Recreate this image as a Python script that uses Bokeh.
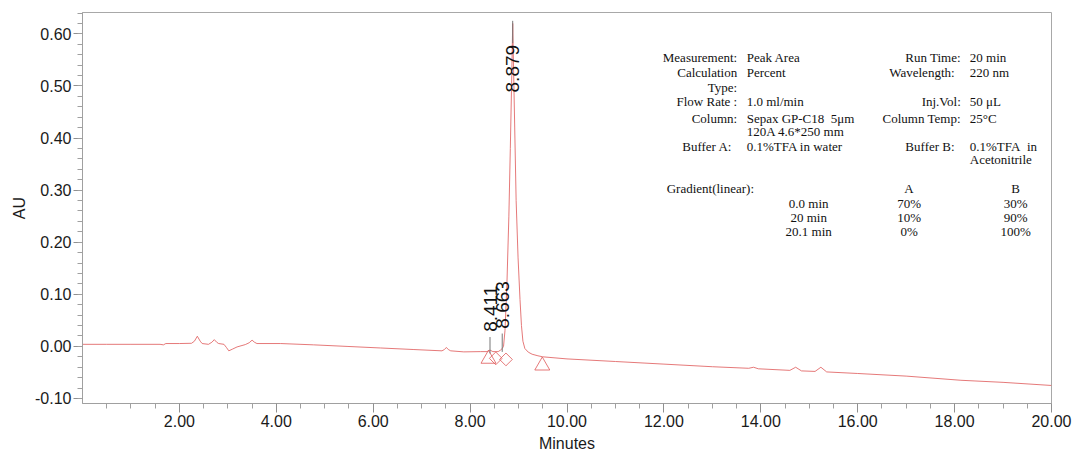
import math
from bokeh.plotting import figure
from bokeh.models import Range1d, FixedTicker, NumeralTickFormatter, Label, ColumnDataSource
from bokeh.embed import file_html
from bokeh.resources import INLINE

# ---------------- data ----------------
times = [0.00, 0.50, 1.00, 1.60, 1.67, 1.72, 2.00, 2.25, 2.31, 2.37, 2.43, 2.47, 2.60, 2.67, 2.72,
         2.77, 2.81, 2.92, 2.97, 3.02, 3.10, 3.19, 3.36, 3.44, 3.50, 3.55, 3.60, 4.09, 4.77, 5.46,
         6.15, 6.84, 7.42, 7.47, 7.51, 7.55, 7.60, 7.87, 8.21, 8.35, 8.41, 8.47, 8.58, 8.63, 8.663,
         8.69, 8.72, 8.76, 8.80, 8.83, 8.86, 8.879, 8.90, 8.925, 8.95, 8.99, 9.03, 9.06, 9.09, 9.13,
         9.20, 9.28, 9.40, 9.50, 10.00, 11.00, 12.00, 13.00, 13.75, 13.85, 13.95, 14.60, 14.72, 14.84,
         15.12, 15.24, 15.36, 16.00, 17.00, 18.13, 19.00, 20.00]
absorbance = [0.004, 0.004, 0.004, 0.004, 0.003, 0.0055, 0.0055, 0.006, 0.010, 0.0195, 0.010, 0.0055, 0.004, 0.008, 0.013,
              0.008, 0.0055, 0.004, -0.002, -0.0085, -0.005, -0.001, 0.0035, 0.007, 0.012, 0.008, 0.0055, 0.0055, 0.003, 0.000,
              -0.003, -0.006, -0.0085, -0.006, -0.002, -0.006, -0.0085, -0.0105, -0.010, -0.010, -0.007, -0.010, -0.010, -0.007, -0.004,
              0.000, 0.030, 0.120, 0.250, 0.380, 0.520, 0.620, 0.520, 0.400, 0.280, 0.170, 0.090, 0.040, 0.010, -0.004,
              -0.011, -0.015, -0.018, -0.020, -0.024, -0.029, -0.034, -0.039, -0.042, -0.040, -0.043, -0.046, -0.040, -0.047,
              -0.048, -0.040, -0.049, -0.052, -0.057, -0.065, -0.069, -0.075]

peak_times = [8.411, 8.663, 8.879]
peak_labels = ["8.411", "8.663", "8.879"]

triangle_times = [8.38, 9.49]
triangle_values = [-0.024, -0.037]
diamond_times = [8.53, 8.74]
diamond_values = [-0.023, -0.025]

x_ticks = [2, 4, 6, 8, 10, 12, 14, 16, 18, 20]
y_ticks = [-0.1, 0.0, 0.1, 0.2, 0.3, 0.4, 0.5, 0.6]

left_labels = ["Measurement:", "Calculation", "Type:", "Flow Rate :", "Column:", "Buffer A:"]
left_label_rows = [0, 1, 2, 3, 4, 6]
left_values = ["Peak Area", "Percent", "1.0 ml/min", "Sepax GP-C18\u00a0 5\u03bcm", "120A 4.6*250 mm", "0.1%TFA in water"]
left_value_rows = [0, 1, 3, 4, 5, 6]
right_labels = ["Run Time:", "Wavelength:", "Inj.Vol:", "Column Temp:", "Buffer B:"]
right_label_rows = [0, 1, 3, 4, 6]
right_values = ["20 min", "220 nm", "50 \u03bcL", "25\u00b0C", "0.1%TFA\u00a0 in", "Acetonitrile"]
right_value_rows = [0, 1, 3, 4, 6, 7]
gradient_title = "Gradient(linear):"
gradient_times = ["0.0 min", "20 min", "20.1 min"]
gradient_A = ["70%", "10%", "0%"]
gradient_B = ["30%", "90%", "100%"]

# ---------------- figure ----------------
p = figure(width=1075, height=456, x_range=Range1d(0, 20), y_range=Range1d(-0.1096, 0.641),
           output_backend="svg", toolbar_location=None,
           min_border_left=82, min_border_right=24, min_border_top=12, min_border_bottom=53,
           background_fill_color="white", border_fill_color="white")
p.xgrid.visible = False
p.ygrid.visible = False
p.outline_line_color = "#a8a8a8"
p.outline_line_width = 1

minor_x = [i * 0.5 for i in range(1, 40) if i % 4 != 0]
minor_y = [round(-0.1 + i * 0.02, 2) for i in range(0, 38)]
p.xaxis.ticker = FixedTicker(ticks=x_ticks, minor_ticks=minor_x)
p.yaxis.ticker = FixedTicker(ticks=y_ticks, minor_ticks=minor_y)
p.xaxis.formatter = NumeralTickFormatter(format="0.00")
p.yaxis.formatter = NumeralTickFormatter(format="0.00")

for ax in (p.xaxis, p.yaxis):
    ax.axis_line_color = "#a0a0a0"
    ax.major_tick_line_color = "#909090"
    ax.minor_tick_line_color = "#a0a0a0"
    ax.major_tick_out = 9
    ax.major_tick_in = 0
    ax.minor_tick_out = 5
    ax.minor_tick_in = 0
    ax.major_label_text_font = "Liberation Sans"
    ax.major_label_text_font_size = "16px"
    ax.major_label_text_color = "#1a1a1a"
    ax.major_label_standoff = 2
    ax.axis_label_text_font = "Liberation Sans"
    ax.axis_label_text_font_size = "16px"
    ax.axis_label_text_font_style = "normal"
    ax.axis_label_text_color = "#1a1a1a"
p.xaxis.axis_label = "Minutes"
p.yaxis.axis_label = "AU"
p.xaxis.axis_label_standoff = 5
p.yaxis.axis_label_standoff = 4

RED = "#e06262"
src = ColumnDataSource(data=dict(t=times, v=absorbance))
p.line("t", "v", source=src, line_color=RED, line_width=1, line_alpha=0.85)

# integration markers
p.scatter(triangle_times, triangle_values, marker="triangle", size=15, fill_alpha=0,
          line_color=RED, line_width=1, line_alpha=0.85)
p.scatter(diamond_times, diamond_values, marker="square", size=9, angle=math.pi / 4, fill_alpha=0,
          line_color=RED, line_width=1, line_alpha=0.85)

# peak labels and tick lines
label_bottoms = [0.028, 0.034, 0.4875]
drop_lines = [(0.018, -0.0136), (0.0247, -0.0105), (0.582, 0.625)]
for t, txt, yb, (y0, y1) in zip(peak_times, peak_labels, label_bottoms, drop_lines):
    p.segment(x0=[t], y0=[y0], x1=[t], y1=[y1], line_color="#777777", line_width=1)
    p.add_layout(Label(x=t, y=yb, text=txt, angle=math.pi / 2, angle_units="rad",
                       text_align="left", text_baseline="middle",
                       text_font="Liberation Sans", text_font_size="19px", text_color="#111111"))

# info block
row_y = [0.5541, 0.5253, 0.4977, 0.4703, 0.4371, 0.4133, 0.3840, 0.3585,
         0.3040, 0.2741, 0.2484, 0.2209]


def note(x, y, txt, align):
    p.add_layout(Label(x=x, y=y, text=txt, text_align=align, text_baseline="middle",
                       text_font="Liberation Serif", text_font_size="13px", text_color="#111111"))


col1_right = 13.512
col1_val = 13.708
col2_right = 18.127
col2_val = 18.313
for txt, r in zip(left_labels, left_label_rows):
    x = 13.409 if txt.startswith("Buffer") else col1_right
    note(x, row_y[r], txt, "right")
for txt, r in zip(left_values, left_value_rows):
    note(col1_val, row_y[r], txt, "left")
for txt, r in zip(right_labels, right_label_rows):
    x = 18.0 if txt.startswith(("Wavelength", "Buffer")) else col2_right
    note(x, row_y[r], txt, "right")
for txt, r in zip(right_values, right_value_rows):
    note(col2_val, row_y[r], txt, "left")

note(12.057, row_y[8], gradient_title, "left")
note(17.06, row_y[8], "A", "center")
note(19.26, row_y[8], "B", "center")
for i in range(3):
    note(14.989, row_y[9 + i], gradient_times[i], "center")
    note(17.06, row_y[9 + i], gradient_A[i], "center")
    note(19.26, row_y[9 + i], gradient_B[i], "center")

open("out.html", "w").write(file_html(p, INLINE))
